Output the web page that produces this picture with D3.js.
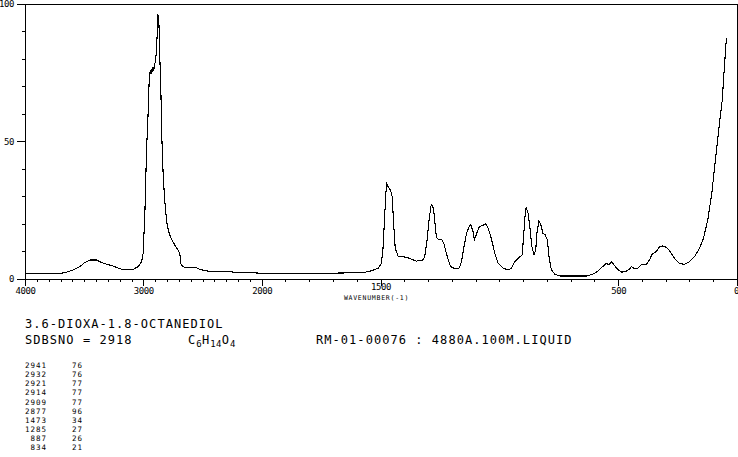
<!DOCTYPE html>
<html><head><meta charset="utf-8">
<script src="https://cdn.jsdelivr.net/npm/d3@7"></script>
<style>body{margin:0;background:#fff}svg{display:block}</style>
</head><body>
<script>
// ---- data ----
const wavenumbers = [4000,3800,3700,3662,3592,3536,3494,3451,3395,3353,3311,3255,3198,3142,3086,3044,3015,3002,2987,2973,2959,2951,2945,2941,2936,2932,2926,2921,2917,2914,2911,2909,2903,2895,2889,2883,2877,2873,2869,2863,2857,2852,2844,2833,2824,2813,2799,2782,2762,2734,2706,2692,2684,2669,2636,2551,2523,2439,2298,2200,2101,2000,1800,1574,1538,1510,1496,1489,1482,1475,1468,1458,1451,1444,1438,1426,1391,1349,1323,1314,1304,1296,1287,1285,1277,1272,1265,1254,1243,1234,1225,1215,1205,1187,1169,1159,1149,1138,1127,1121,1112,1105,1095,1084,1068,1057,1047,1040,1029,1019,1005,984,963,949,935,914,904,897,891,887,879,872,863,854,847,842,834,826,817,807,798,791,781,767,746,633,605,584,563,549,538,528,514,500,486,468,454,444,435,417,403,382,368,357,340,326,312,298,284,263,242,221,200,179,158,141,123,106,91,77,62,53,46,43];
const intensities = [2.1,2.1,2.1,2.3,3.3,4.5,6.0,6.9,6.9,6.0,5.4,4.7,3.7,3.3,3.5,4.5,6.3,9.3,24,46.8,61,71.6,74.5,76,74.5,76,75,77,75.5,77,76,77,78,80,83,89,96,92.5,94,84,75,68.6,51.7,38.4,31.7,25,19.6,16.6,14.4,12.3,10.5,9.3,5.7,4.5,4.1,4.1,3.5,2.7,2.7,2.4,2.3,2.1,2.0,2.3,3.0,3.9,5.7,11.7,23.8,34.7,33.5,32.3,29.9,19,11.1,8.3,7.9,6.5,6.9,8.1,14.2,21.4,26.8,27,25.6,21.4,15.1,14.2,14.4,13,10,6.9,4.5,3.8,4.0,6.3,11.7,16.6,19,19.8,17.7,14.2,16.6,19,19.5,20,18.4,16.6,13,9.3,5.7,3.9,3.3,3.9,6.3,8.1,8.7,16.6,23.8,26,23.8,19,11.7,8.7,10.5,16.6,21,20,16.6,16,14.2,8.1,3.3,1.8,1.1,1.1,1.8,3,4.7,5.7,5.1,6.3,4.7,3.3,2.5,2.7,3.5,4.5,3.9,3.9,5.1,5.3,6.9,9.1,9.9,11.7,12,11.5,10.3,7.5,5.7,5.3,6.3,8.1,11.1,14.8,21.4,31.1,43.2,54.1,65,77.2,85.7,87.4];
const xMajorTicks = [4000,3000,2000,1500,500,0];
const xTickLabels = ["4000","3000","2000","1500","500","0"];
const yMajorTicks = [0,50,100];
const yTickLabels = ["0","50","100"];
const peakWavenumbers = ["2941","2932","2921","2914","2909","2877","1473","1285","887","834"];
const peakIntensities = ["76","76","77","77","77","96","34","27","26","21"];
const compoundName = "3.6-DIOXA-1.8-OCTANEDIOL";
const sdbsLine = "SDBSNO = 2918";
const conditionsLine = "RM-01-00076 : 4880A.100M.LIQUID";
const xAxisTitle = "WAVENUMBER(-1)";

// ---- drawing ----
const W = 738, H = 457;
const FONT = "'DejaVu Sans Mono', 'Liberation Mono', monospace";
const svg = d3.select("body").append("svg").attr("width", W).attr("height", H);

const x = d3.scaleLinear().domain([4000, 2000, 0]).range([25, 261.7, 737]);
const y = d3.scaleLinear().domain([0, 100]).range([279, 3.5]);

// minor x ticks
svg.append("g").attr("transform", `translate(0,${y(0)})`)
  .call(d3.axisBottom(x).tickValues(d3.range(4000, -1, -100)).tickSize(3).tickSizeOuter(0).tickFormat(""));
// major x ticks + labels
const gxMajor = svg.append("g").attr("transform", `translate(0,${y(0)})`)
  .call(d3.axisBottom(x).tickValues(xMajorTicks).tickSize(7).tickSizeOuter(0).tickPadding(2)
    .tickFormat((d, i) => xTickLabels[i]));
gxMajor.selectAll("text").attr("font-family", FONT).attr("font-size", 9).attr("letter-spacing", "-0.4px")
  .attr("dy", (d) => d === 1500 ? "0.25em" : "0.71em")
  .attr("text-anchor", (d) => d === 0 ? "end" : "middle")
  .attr("x", (d) => d === 0 ? 1.5 : 0);

// minor y ticks
svg.append("g").attr("transform", `translate(${x(4000)},0)`)
  .call(d3.axisLeft(y).tickValues(d3.range(0, 101, 10)).tickSize(3).tickSizeOuter(0).tickFormat(""));
const gyMajor = svg.append("g").attr("transform", `translate(${x(4000)},0)`)
  .call(d3.axisLeft(y).tickValues(yMajorTicks).tickSize(8).tickSizeOuter(0).tickPadding(3)
    .tickFormat((d, i) => yTickLabels[i]));
gyMajor.selectAll("text").attr("font-family", FONT).attr("font-size", 9).attr("letter-spacing", "-0.4px");

svg.selectAll(".domain, .tick line").attr("stroke", "#000").attr("shape-rendering", "crispEdges");

// frame top and right
svg.append("line").attr("x1", x(4000)).attr("x2", x(0) + 0.5).attr("y1", Math.round(y(100)) + 0.5).attr("y2", Math.round(y(100)) + 0.5)
  .attr("stroke", "#000").attr("shape-rendering", "crispEdges");
svg.append("line").attr("x1", x(0) + 0.5).attr("x2", x(0) + 0.5).attr("y1", y(100)).attr("y2", y(0) + 0.5)
  .attr("stroke", "#000").attr("shape-rendering", "crispEdges");

// x axis title
svg.append("text").attr("x", x(1500) - 4).attr("y", 299.5).attr("text-anchor", "middle")
  .attr("font-family", FONT).attr("font-size", 6.5).attr("letter-spacing", "0.75px").text(xAxisTitle);

// spectrum
const pts = wavenumbers.map((w, i) => [w, intensities[i]]);
svg.append("path").datum(pts)
  .attr("d", d3.line().x(d => x(d[0])).y(d => y(d[1])))
  .attr("fill", "none").attr("stroke", "#000").attr("stroke-width", 1.1)
  .attr("shape-rendering", "crispEdges");

// info text
const info = svg.append("g").attr("font-family", FONT).attr("font-size", 12).attr("letter-spacing", "1.05px").attr("fill", "#000");
info.append("text").attr("x", 25).attr("y", 328).text(compoundName);
info.append("text").attr("x", 25).attr("y", 344).text(sdbsLine);
const f = info.append("text").attr("x", 188).attr("y", 344);
[["C",0],["6",1],["H",0],["14",1],["O",0],["4",1]].forEach(([t, sub]) => {
  f.append("tspan").text(t).attr("font-size", sub ? 9 : 12)
    .attr("dy", sub ? 3 : -3).attr("letter-spacing", sub ? "0.3px" : "1.05px");
});
f.select("tspan").attr("dy", 0);
info.append("text").attr("x", 316).attr("y", 344).text(conditionsLine);

// peak table
const tbl = svg.append("g").attr("font-family", FONT).attr("font-size", 7.5).attr("letter-spacing", "1px");
peakWavenumbers.forEach((w, i) => {
  const yy = 368 + i * 9.15;
  tbl.append("text").attr("x", 47).attr("y", yy).attr("text-anchor", "end").text(w);
  tbl.append("text").attr("x", 83).attr("y", yy).attr("text-anchor", "end").text(peakIntensities[i]);
});
</script>
</body></html>
